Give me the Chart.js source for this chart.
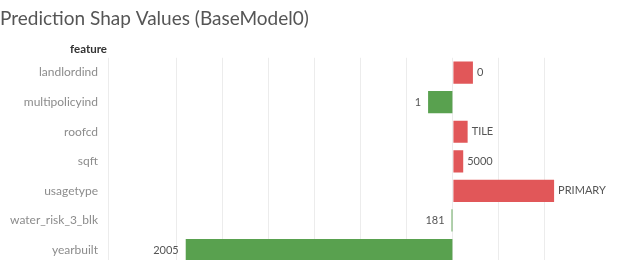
<!DOCTYPE html>
<html>
<head>
<meta charset="utf-8">
<script src="https://cdn.jsdelivr.net/npm/chart.js@4"></script>
<style>
  html, body { margin: 0; padding: 0; background: #fff; overflow: hidden; }
  #wrap { width: 624px; height: 274px; }
</style>
</head>
<body>
<div id="wrap"><canvas id="chart"></canvas></div>
<script>
//Data
const features = ["landlordind", "multipolicyind", "roofcd", "sqft", "usagetype", "water_risk_3_blk", "yearbuilt"];
const shapValues = [0.0435, -0.054, 0.032, 0.0224, 0.22, -0.003, -0.581];
const featureValues = ["0", "1", "TILE", "5000", "PRIMARY", "181", "2005"];

const red = "#e15759";
const green = "#59a14f";
const font = "Lato, 'Open Sans', sans-serif";

//Draws the "feature" header and the value at the end of each bar
const labelsPlugin = {
  id: "labels",
  afterDatasetsDraw(chart) {
    const { ctx, chartArea } = chart;
    ctx.save();
    ctx.font = "bold 11.5px " + font;
    ctx.fillStyle = "#333";
    ctx.textAlign = "right";
    ctx.textBaseline = "alphabetic";
    ctx.fillText("feature", chartArea.left - 1, 53);

    ctx.font = "11px " + font;
    ctx.fillStyle = "#555";
    ctx.textBaseline = "middle";
    chart.getDatasetMeta(0).data.forEach((bar, i) => {
      if (shapValues[i] >= 0) {
        ctx.textAlign = "left";
        ctx.fillText(featureValues[i], bar.x + 4, bar.y);
      } else {
        ctx.textAlign = "right";
        ctx.fillText(featureValues[i], bar.x - 7, bar.y);
      }
    });
    ctx.restore();
  },
};

new Chart(document.getElementById("chart"), {
  type: "bar",
  data: {
    labels: features,
    datasets: [
      {
        data: shapValues,
        backgroundColor: shapValues.map(v => (v >= 0 ? red : green)),
        categoryPercentage: 1,
        barPercentage: 0.75,
      },
    ],
  },
  options: {
    indexAxis: "y",
    responsive: true,
    maintainAspectRatio: false,
    animation: false,
    layout: { padding: 0 },
    plugins: {
      legend: { display: false },
      tooltip: { enabled: false },
      title: {
        display: true,
        text: "Prediction Shap Values (BaseModel0)",
        align: "start",
        color: "#555",
        font: { family: font, size: 19, weight: "normal" },
        padding: { top: 7, bottom: 28 },
      },
    },
    scales: {
      x: {
        min: -0.75,
        max: 0.372,
        ticks: { display: false, stepSize: 0.1 },
        grid: { color: "#ececec", drawTicks: false },
        border: { display: false },
        afterBuildTicks: scale => {
          scale.ticks = scale.ticks.filter(t => t.value < 0.37);
        },
      },
      y: {
        grid: { display: false },
        border: { display: false },
        ticks: {
          color: "#8c8c8c",
          padding: 2,
          font: { family: font, size: 12 },
        },
        afterFit: scale => {
          scale.width = 108;
        },
      },
    },
  },
  plugins: [labelsPlugin],
});
</script>
</body>
</html>
